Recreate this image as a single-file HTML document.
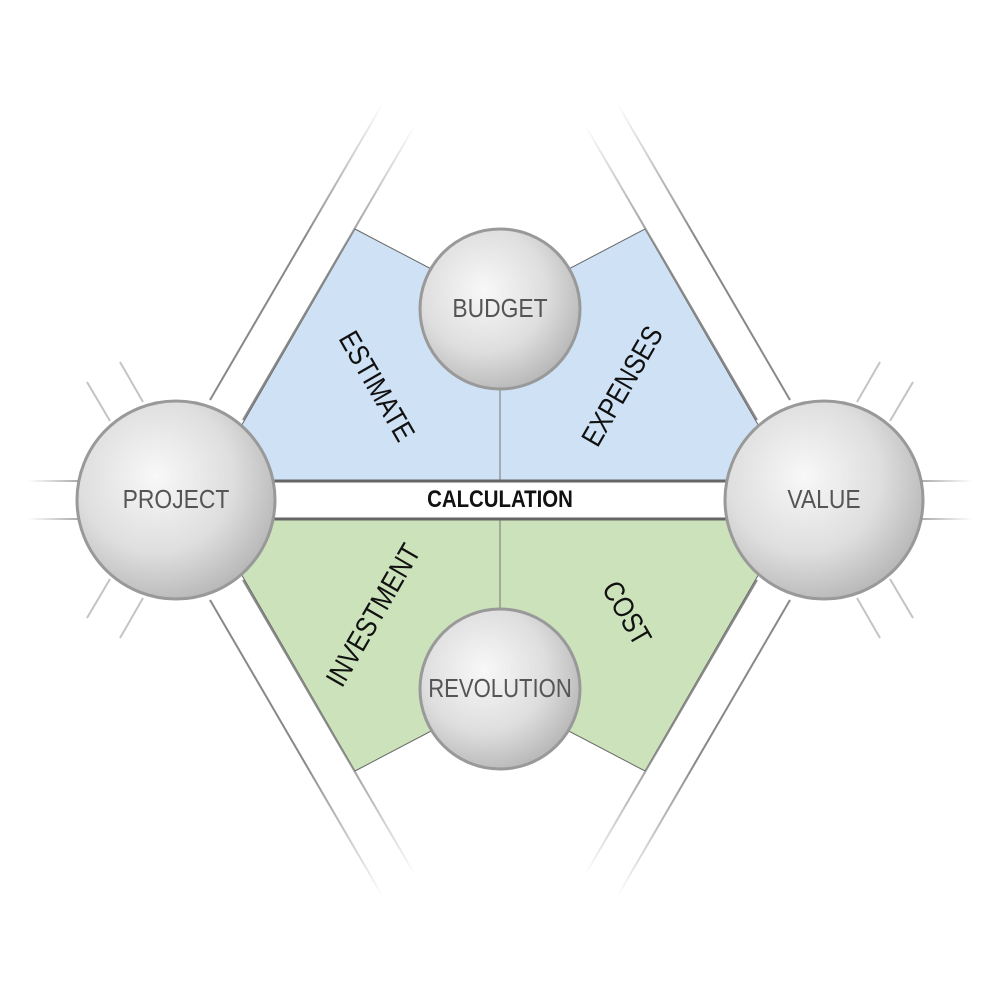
<!DOCTYPE html>
<html><head><meta charset="utf-8"><style>
html,body{margin:0;padding:0;background:#fff}
svg{display:block}
text{font-family:"Liberation Sans",sans-serif}
</style></head><body>
<svg width="1000" height="1000" viewBox="0 0 1000 1000" xmlns="http://www.w3.org/2000/svg">
<defs>
<radialGradient id="ball" cx="0.4" cy="0.38" r="0.65">
<stop offset="0" stop-color="#f8f8f8"/><stop offset="0.6" stop-color="#dedede"/><stop offset="1" stop-color="#b8b8b8"/>
</radialGradient>
<linearGradient id="fadeUp" x1="0" y1="1" x2="0" y2="0">
<stop offset="0.55" stop-color="#888"/><stop offset="1" stop-color="#888" stop-opacity="0"/>
</linearGradient>
<linearGradient id="fadeDown" x1="0" y1="0" x2="0" y2="1">
<stop offset="0.55" stop-color="#888"/><stop offset="1" stop-color="#888" stop-opacity="0"/>
</linearGradient>
<linearGradient id="fadeL" gradientUnits="userSpaceOnUse" x1="80" y1="0" x2="28" y2="0">
<stop offset="0" stop-color="#aaa"/><stop offset="1" stop-color="#aaa" stop-opacity="0"/>
</linearGradient>
<linearGradient id="fadeR" gradientUnits="userSpaceOnUse" x1="920" y1="0" x2="972" y2="0">
<stop offset="0" stop-color="#aaa"/><stop offset="1" stop-color="#aaa" stop-opacity="0"/>
</linearGradient>
</defs>

<polygon points="355,229 500,305 645,229 790,480 210,480" fill="#cfe1f4" stroke="#666" stroke-width="1"/>
<polygon points="355,771 500,695 645,771 790,520 210,520" fill="#cbe2ba" stroke="#666" stroke-width="1"/>
<line x1="500" y1="380" x2="500" y2="480" stroke="#777" stroke-width="1"/>
<line x1="500" y1="520" x2="500" y2="620" stroke="#777" stroke-width="1"/>

<g stroke-width="2" fill="none">
<path d="M243,420 L415,125" stroke="url(#fadeUp)"/>
<path d="M210,400 L383,103" stroke="url(#fadeUp)"/>
<path d="M757,420 L585,125" stroke="url(#fadeUp)"/>
<path d="M790,400 L617,103" stroke="url(#fadeUp)"/>
<path d="M243,580 L415,875" stroke="url(#fadeDown)"/>
<path d="M210,600 L383,897" stroke="url(#fadeDown)"/>
<path d="M757,580 L585,875" stroke="url(#fadeDown)"/>
<path d="M790,600 L617,897" stroke="url(#fadeDown)"/>
</g>
<g stroke="#c4c4c4" stroke-width="2">
<line x1="28" y1="481" x2="80" y2="481" stroke="url(#fadeL)"/>
<line x1="28" y1="519" x2="80" y2="519" stroke="url(#fadeL)"/>
<line x1="87" y1="382" x2="110" y2="421"/>
<line x1="120" y1="362" x2="143" y2="402"/>
<line x1="87" y1="618" x2="110" y2="579"/>
<line x1="120" y1="638" x2="143" y2="598"/>
<line x1="920" y1="481" x2="972" y2="481" stroke="url(#fadeR)"/>
<line x1="920" y1="519" x2="972" y2="519" stroke="url(#fadeR)"/>
<line x1="913" y1="382" x2="890" y2="421"/>
<line x1="880" y1="362" x2="857" y2="402"/>
<line x1="913" y1="618" x2="890" y2="579"/>
<line x1="880" y1="638" x2="857" y2="598"/>
</g>

<rect x="260" y="481" width="480" height="38" fill="#fff"/>
<line x1="260" y1="481" x2="740" y2="481" stroke="#666" stroke-width="3"/>
<line x1="260" y1="519" x2="740" y2="519" stroke="#666" stroke-width="3"/>
<text transform="translate(500,507) scale(0.85,1)" text-anchor="middle" font-size="24" font-weight="bold" fill="#111">CALCULATION</text>

<g font-size="29" fill="#111" text-anchor="middle">
<text transform="translate(377,386) rotate(60) scale(0.85,1)" y="10">ESTIMATE</text>
<text transform="translate(622,386) rotate(-60) scale(0.85,1)" y="10">EXPENSES</text>
<text transform="translate(373,615) rotate(-60) scale(0.85,1)" y="10">INVESTMENT</text>
<text transform="translate(627,613) rotate(60) scale(0.85,1)" y="10">COST</text>
</g>

<g stroke="#999" stroke-width="3" fill="url(#ball)">
<circle cx="176" cy="500" r="99"/>
<circle cx="824" cy="500" r="99"/>
<circle cx="500" cy="309" r="80"/>
<circle cx="500" cy="689" r="80"/>
</g>
<g font-size="26" fill="#555" text-anchor="middle">
<text transform="translate(176,508) scale(0.88,1)">PROJECT</text>
<text transform="translate(824,508) scale(0.88,1)">VALUE</text>
<text transform="translate(500,317) scale(0.88,1)">BUDGET</text>
<text transform="translate(500,697) scale(0.85,1)">REVOLUTION</text>
</g>
</svg>
</body></html>
